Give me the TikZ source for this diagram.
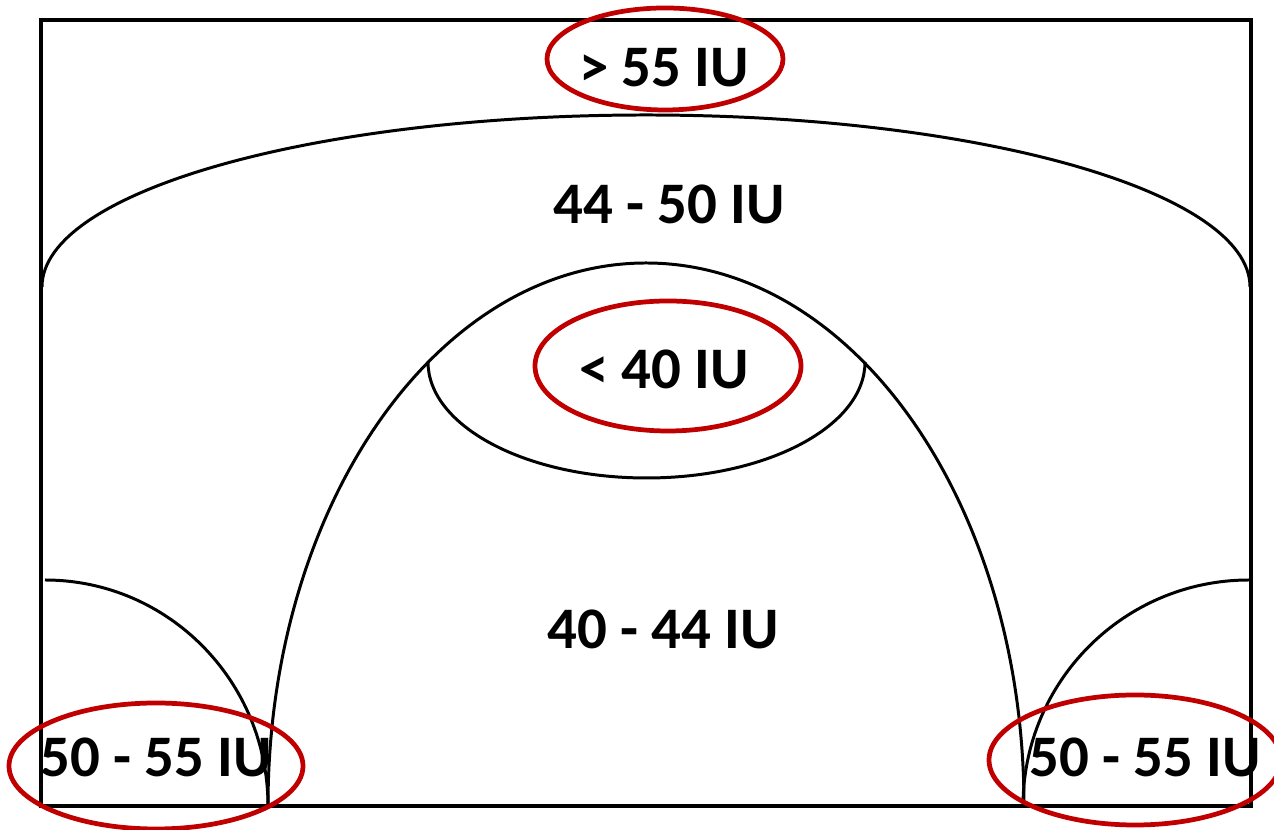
\documentclass[tikz,border=0pt]{standalone}
\usepackage{fontspec}
\setmainfont{Carlito}
\definecolor{ringred}{HTML}{C00000}
\begin{document}
\begin{tikzpicture}[x=0.02cm,y=0.02cm,
  frame/.style={draw=black,line width=2.8pt},
  zone/.style={draw=black,line width=1.7pt},
  ring/.style={draw=ringred,line width=2.7pt},
  lbl/.style={anchor=base,inner sep=0pt,font=\fontsize{33.5}{40}\selectfont\bfseries}]
\clip (0,0) rectangle (1274,830);
% outer frame
\draw[frame] (41,24) rectangle (1251,810);
% zone boundaries
\draw[zone] (42,543) arc[start angle=180,end angle=0,x radius=604,y radius=172];
\draw[zone] (268,24) arc[start angle=180,end angle=0,x radius=378,y radius=543];
\draw[zone] (428,468) arc[start angle=180,end angle=360,x radius=218.5,y radius=116];
\draw[zone] (45,250) arc[start angle=90,end angle=0,x radius=223,y radius=226];
\draw[zone] (1249,250) arc[start angle=90,end angle=180,x radius=226,y radius=226];
% labels
\node[lbl] (top) at (664,743) {> 55 IU};
\node[lbl] (upper) at (669,606) {44 - 50 IU};
\node[lbl] (core) at (664,441) {< 40 IU};
\node[lbl] (mid) at (663,181) {40 - 44 IU};
\node[lbl] (bl) at (156,53) {50 - 55 IU};
\node[lbl] (br) at (1145,53) {50 - 55 IU};
% highlighted zones
\draw[ring] (665,771) ellipse[x radius=118,y radius=51];
\draw[ring] (668,464) ellipse[x radius=133,y radius=65];
\draw[ring] (156,64) ellipse[x radius=147,y radius=63];
\draw[ring] (1135,70) ellipse[x radius=146,y radius=65];
\end{tikzpicture}
\end{document}
